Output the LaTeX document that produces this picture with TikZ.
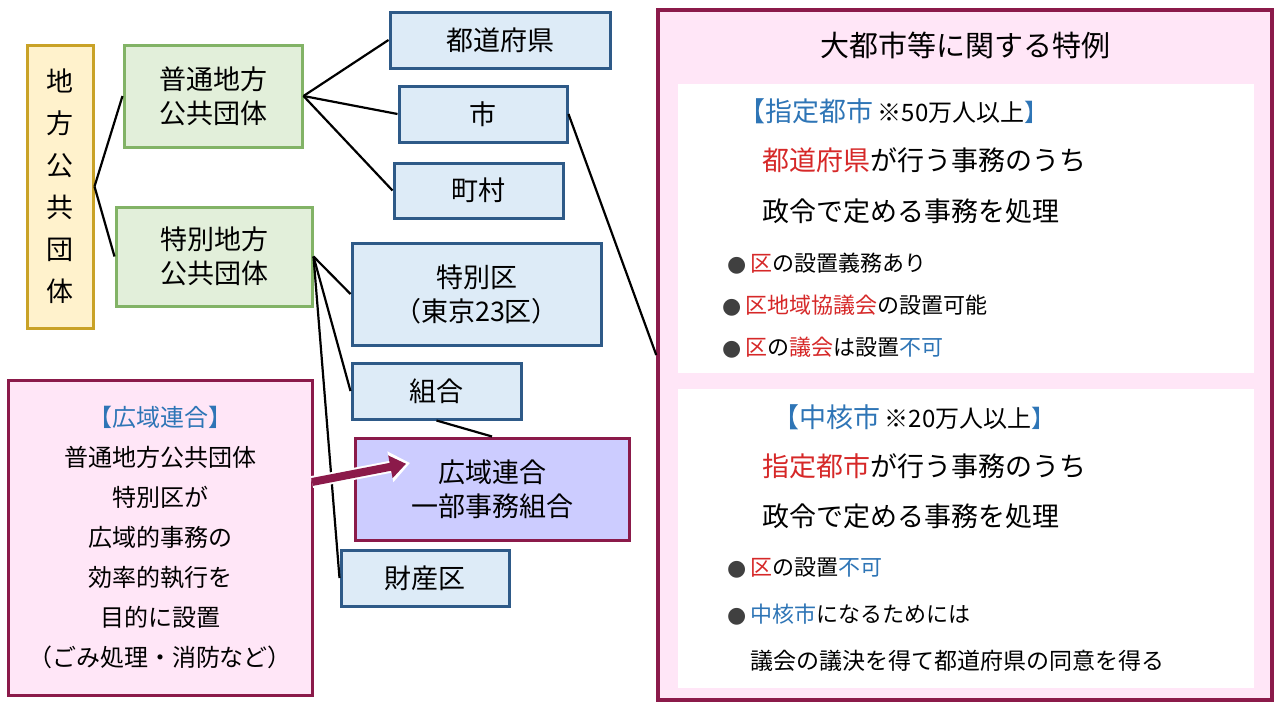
\documentclass[tikz,border=0pt]{standalone}
\usepackage{fontspec}
\setmainfont{Noto Sans CJK JP}
\newfontfamily\djv{DejaVu Sans}
\usetikzlibrary{arrows.meta,calc}
\definecolor{ybord}{HTML}{C9A227}\definecolor{yfill}{HTML}{FFF2CC}
\definecolor{gbord}{HTML}{82B366}\definecolor{gfill}{HTML}{E2EFDA}
\definecolor{bbord}{HTML}{2E5A88}\definecolor{bfill}{HTML}{DDEBF7}
\definecolor{mbord}{HTML}{8B1A4A}\definecolor{pfill}{HTML}{FFE6F7}
\definecolor{lfill}{HTML}{CCCCFF}
\definecolor{tblue}{HTML}{2E75B6}\definecolor{tred}{HTML}{D62828}
\newcommand{\R}[1]{\textcolor{tred}{#1}}
\newcommand{\B}[1]{\textcolor{tblue}{#1}}
\newcommand{\bul}{{\djv\textcolor{black!75}{●}}\,}
\begin{document}
\begin{tikzpicture}[x=1pt,y=-1pt,
 box/.style={draw,line width=3pt,inner sep=0pt,align=center,font=\fontsize{27}{34}\selectfont},
 yb/.style={box,draw=ybord,fill=yfill},
 gb/.style={box,draw=gbord,fill=gfill},
 bb/.style={box,draw=bbord,fill=bfill},
 ln/.style={line width=2.2pt,black},
 txt/.style={anchor=west,font=\fontsize{27}{30}\selectfont,inner sep=0pt},
 sm/.style={anchor=west,font=\fontsize{22}{26}\selectfont,inner sep=0pt}]
\useasboundingbox (0,0) rectangle (1280,720);
\fill[white] (0,0) rectangle (1280,720);
\node[yb,minimum width=66pt,minimum height=283pt,font=\fontsize{27}{42}\selectfont] (chiho) at (60,186.5) {地\\方\\公\\共\\団\\体};
\node[gb,minimum width=178pt,minimum height=102pt] (futsu) at (213,96) {普通地方\\公共団体};
\node[gb,minimum width=196pt,minimum height=99pt] (tokubetsu) at (214,256.5) {特別地方\\公共団体};
\node[bb,minimum width=220pt,minimum height=56pt] (todo) at (500,40) {都道府県};
\node[bb,minimum width=168pt,minimum height=56pt] (shi) at (483,114) {市};
\node[bb,minimum width=169pt,minimum height=55pt] (cho) at (478.5,190.5) {町村};
\node[bb,minimum width=249pt,minimum height=102pt] (ku) at (476.5,294) {特別区\\（東京23区）};
\node[bb,minimum width=169pt,minimum height=56pt] (kumiai) at (436.5,391) {組合};
\node[box,draw=mbord,fill=lfill,minimum width=274pt,minimum height=102pt] (koiki) at (492,489) {広域連合\\一部事務組合};
\node[bb,minimum width=168pt,minimum height=56pt] (zaisan) at (425,578) {財産区};
\node[box,draw=mbord,fill=pfill,minimum width=304pt,minimum height=315pt,font=\fontsize{24}{40}\selectfont] (left) at (160,537.5) {\B{【広域連合】}\\普通地方公共団体\\特別区が\\広域的事務の\\効率的執行を\\目的に設置\\（ごみ処理・消防など）};
\draw[ln] (chiho.east) -- (futsu.west);
\draw[ln] (chiho.east) -- (tokubetsu.west);
\draw[ln] (futsu.east) -- (todo.west);
\draw[ln] (futsu.east) -- (shi.west);
\draw[ln] (futsu.east) -- (cho.west);
\draw[ln] (tokubetsu.east) -- (ku.west);
\draw[ln] (tokubetsu.east) -- (kumiai.west);
\draw[ln] (tokubetsu.east) -- (zaisan.west);
\draw[ln] (kumiai.south) -- (koiki.north);
% right panel
\node[draw=mbord,line width=3.5pt,fill=pfill,minimum width=614pt,minimum height=690pt,inner sep=0pt] (panel) at (965,355) {};
\draw[ln] (shi.east) -- (panel.west);
\fill[white] (678,84) rectangle (1254,373);
\fill[white] (678,389) rectangle (1254,688);
\node[font=\fontsize{29}{32}\selectfont] (title) at (965,45) {大都市等に関する特例};
\node[txt] (a1) at (738,111) {\B{【指定都市}\,\fontsize{24}{26}\selectfont ※50万人以上\B{】}};
\node[txt] (a2) at (762,160) {\R{都道府県}が行う事務のうち};
\node[txt] (a3) at (762,211) {政令で定める事務を処理};
\node[sm] (a4) at (727,264) {\bul\R{区}の設置義務あり};
\node[sm] (a5) at (722,306) {\bul\R{区地域協議会}の設置可能};
\node[sm] (a6) at (722,348) {\bul\R{区}の\R{議会}は設置\B{不可}};
\node[txt] (b1) at (772,417) {\B{【中核市}\,\fontsize{24}{26}\selectfont ※20万人以上\B{】}};
\node[txt] (b2) at (762,466) {\R{指定都市}が行う事務のうち};
\node[txt] (b3) at (762,516) {政令で定める事務を処理};
\node[sm] (b4) at (727,568) {\bul\R{区}の設置\B{不可}};
\node[sm] (b5) at (727,615) {\bul\B{中核市}になるためには};
\node[sm,font=\fontsize{23}{26}\selectfont] (b6) at (750,661) {議会の議決を得て都道府県の同意を得る};
\coordinate (as) at (312,482);
\coordinate (ae) at (410,463);
\draw[-{Triangle[length=20pt,width=30pt]},line width=12pt,white] (as) -- (ae);
\draw[-{Triangle[length=16pt,width=22pt]},line width=8pt,mbord] (as) -- ($(as)!0.96!(ae)$);
\end{tikzpicture}
\end{document}
